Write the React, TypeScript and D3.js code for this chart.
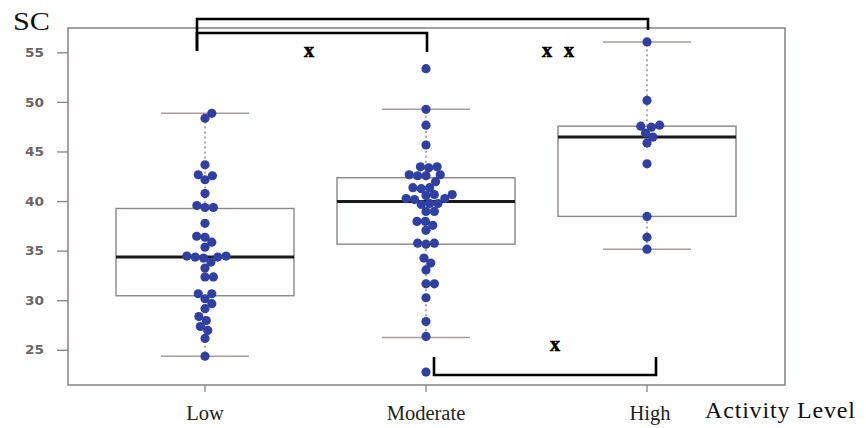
import React from 'react';
import * as d3 from 'd3';

// activity groups
const groups = ['Low', 'Moderate', 'High'];

// SC values per group
const lowSC = [48.9, 48.4, 43.7, 42.7, 42.6, 42.2, 40.8, 39.6, 39.4, 39.4, 37.8, 36.5, 36.4, 35.9, 35.4, 34.5, 34.5,
  34.4, 34.4, 34.3, 33.9, 33.3, 32.4, 32.4, 30.7, 30.7, 30.2, 29.7, 29.2, 28.4, 28.0, 27.4, 27.0, 26.2, 24.4];
const moderateSC = [53.4, 49.3, 47.7, 45.7, 43.5, 43.5, 43.4, 42.7, 42.7, 42.6, 42.6, 42.0, 41.4, 41.4, 41.3,
  40.7, 40.7, 40.6, 40.3, 40.3, 40.2, 39.8, 39.8, 39.7, 39.0, 39.0, 38.0, 38.0, 37.6, 37.1, 35.8, 35.8, 35.7,
  34.3, 33.8, 33.1, 31.7, 31.7, 30.3, 27.9, 26.4, 22.8];
const highSC = [56.1, 50.2, 47.7, 47.6, 47.5, 46.9, 46.5, 45.9, 43.8, 38.5, 36.4, 35.2];

// boxplot stats per group
const whiskerLow = [24.4, 26.3, 35.2];
const q1 = [30.5, 35.7, 38.5];
const median = [34.4, 40.0, 46.5];
const q3 = [39.3, 42.4, 47.6];
const whiskerHigh = [48.9, 49.3, 56.1];

const yTicks = [25, 30, 35, 40, 45, 50, 55];

// significance brackets, stars = number of marks
const brackets = [
  { from: 'Low', to: 'Moderate', stars: 1, side: 'top', level: 1 },
  { from: 'Low', to: 'High', stars: 2, side: 'top', level: 0 },
  { from: 'Moderate', to: 'High', stars: 1, side: 'bottom', level: 0 },
];

const W = 866, H = 428;
const left = 68, right = 785, top = 28, bottom = 385;

const y = d3.scaleLinear().domain([21.5, 57.5]).range([bottom, top]);
const x = d3.scalePoint().domain(groups).range([205, 647]);

const R = 4.6;
const DIA = 8.4;

// simple swarm layout: each dot takes the offset nearest the centre that doesn't overlap
function swarm(vals: number[]) {
  const placed: { x: number; y: number }[] = [];
  const sorted = [...vals].sort((a, b) => a - b);
  sorted.forEach(v => {
    const py = y(v);
    const cands = [0];
    placed.forEach(p => {
      const dy = Math.abs(p.y - py);
      if (dy < DIA) {
        const dx = Math.sqrt(DIA * DIA - dy * dy);
        cands.push(p.x + dx, p.x - dx);
      }
    });
    const ok = cands
      .filter(c => placed.every(p => Math.hypot(p.x - c, p.y - py) >= DIA - 1e-6))
      .sort((a, b) => Math.abs(a) - Math.abs(b));
    placed.push({ x: ok[0], y: py });
  });
  return placed;
}

const series = [lowSC, moderateSC, highSC];

export default function App() {
  const boxHalf = 89, capHalf = 44;
  const frame = '#8a8080';
  const serif = '"Liberation Serif", "Times New Roman", serif';
  const star = { fontFamily: serif, fontWeight: 'bold' as const, fontSize: 20, fill: '#000', stroke: '#000', strokeWidth: 0.6, textAnchor: 'middle' as const };

  const marks = (cx: number, cy: number, n: number) =>
    d3.range(n).map(i => (
      <text key={i} x={cx + (i - (n - 1) / 2) * 22} y={cy} {...star}>x</text>
    ));

  return (
    <svg width={W} height={H} style={{ position: 'absolute', left: 0, top: 0, background: '#fff' }}>
      {/* frame */}
      <rect x={left} y={top} width={right - left} height={bottom - top} fill="none" stroke={frame} strokeWidth={1.5} />

      {/* y axis */}
      {yTicks.map(t => (
        <g key={t}>
          <line x1={57} x2={left} y1={y(t)} y2={y(t)} stroke={frame} strokeWidth={1.3} />
          <text x={44} y={y(t)} dy="0.35em" textAnchor="end" fontFamily="DejaVu Sans" fontWeight="bold"
            fontSize={12} fill="#6a6464" textLength={19} lengthAdjust="spacingAndGlyphs">{t}</text>
        </g>
      ))}

      {/* x axis ticks + labels */}
      {groups.map(g => (
        <g key={g}>
          <line x1={x(g)} x2={x(g)} y1={bottom} y2={bottom + 7} stroke={frame} strokeWidth={1.3} />
          <text x={x(g)! + (g === 'High' ? 3 : 0)} y={420} textAnchor="middle" fontFamily={serif} fontSize={20.5}
            fill="#222">{g}</text>
        </g>
      ))}

      <text x={13} y={30} fontFamily={serif} fontSize={25} fill="#111" textLength={37}
        lengthAdjust="spacingAndGlyphs">SC</text>
      <text x={705} y={418} fontFamily={serif} fontSize={24} fill="#111" textLength={150}
        lengthAdjust="spacing">Activity Level</text>

      {/* boxes */}
      {groups.map((g, i) => {
        const cx = x(g)!;
        return (
          <g key={g}>
            <line x1={cx} x2={cx} y1={y(q3[i])} y2={y(whiskerHigh[i])} stroke="#9c8686" strokeWidth={1.5}
              strokeDasharray="2,3" />
            <line x1={cx} x2={cx} y1={y(q1[i])} y2={y(whiskerLow[i])} stroke="#9c8686" strokeWidth={1.5}
              strokeDasharray="2,3" />
            <line x1={cx - capHalf} x2={cx + capHalf} y1={y(whiskerHigh[i])} y2={y(whiskerHigh[i])}
              stroke="#ab9c9c" strokeWidth={1.5} />
            <line x1={cx - capHalf} x2={cx + capHalf} y1={y(whiskerLow[i])} y2={y(whiskerLow[i])}
              stroke="#ab9c9c" strokeWidth={1.5} />
            <rect x={cx - boxHalf} y={y(q3[i])} width={boxHalf * 2} height={y(q1[i]) - y(q3[i])}
              fill="none" stroke="#8f8585" strokeWidth={1.4} />
            <line x1={cx - boxHalf} x2={cx + boxHalf} y1={y(median[i])} y2={y(median[i])}
              stroke="#1a1a1a" strokeWidth={3} />
          </g>
        );
      })}

      {/* dots */}
      {groups.map((g, i) => (
        <g key={g}>
          {swarm(series[i]).map((p, j) => (
            <circle key={j} cx={x(g)! + p.x} cy={p.y} r={R} fill="#2f3fa3" />
          ))}
        </g>
      ))}

      {/* significance brackets */}
      {brackets.map((b, k) => {
        const x1 = x(b.from)!, x2 = x(b.to)!;
        if (b.side === 'top') {
          const yl = b.level === 0 ? 19 : 33;
          const legEnd = b.level === 0 ? 30 : 52;
          return (
            <g key={k}>
              <path d={`M${x1 - 8},51V${yl}H${x2 + 1}V${legEnd}`} fill="none" stroke="#000" strokeWidth={2.6} />
              {marks(b.level === 0 ? 558 : 309, 57, b.stars)}
            </g>
          );
        }
        return (
          <g key={k}>
            <path d={`M${x1 + 8},357V375H${x2 + 9}V357`} fill="none" stroke="#000" strokeWidth={2.6} />
            {marks(555, 351, b.stars)}
          </g>
        );
      })}
    </svg>
  );
}
